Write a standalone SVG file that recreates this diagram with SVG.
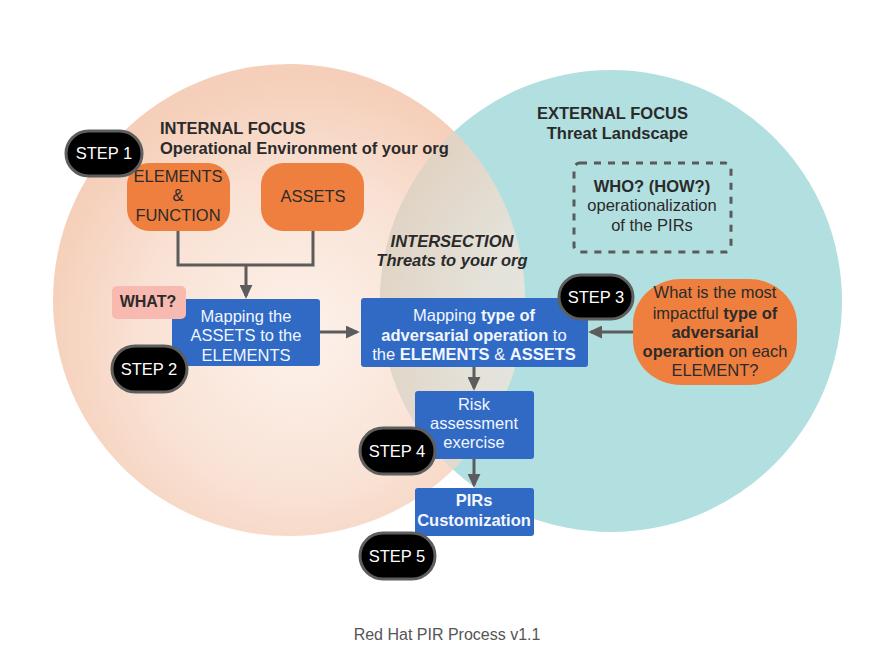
<svg xmlns="http://www.w3.org/2000/svg" width="872" height="661" viewBox="0 0 872 661">
<style>
text{font-family:"Liberation Sans",Arial,sans-serif;font-size:16.5px}
.dark{fill:#2b2b2b}
.hdr{font-weight:bold;fill:#2a2a2a;font-size:16.5px}
.wt{fill:#f2f6ff}
.b{font-weight:bold}
.pill{fill:#000;stroke:#5e5e5e;stroke-width:3}
.pilltxt{fill:#fff;text-anchor:middle;font-size:16.5px}
.blue{fill:#306ac5}
.orange{fill:#ef7f3e}
.conn{fill:none;stroke:#5c5c5c;stroke-width:3}
.mid{text-anchor:middle}
.cap{fill:#555;font-size:16px}
.what{font-size:16px}
</style>
<defs>
<radialGradient id="peach" cx="0.52" cy="0.58" r="0.55">
<stop offset="0" stop-color="#fdf2eb"/>
<stop offset="0.6" stop-color="#f9e2d5"/>
<stop offset="1" stop-color="#f5cfb9"/>
</radialGradient>
<clipPath id="leftClip"><circle cx="289" cy="300" r="236"/></clipPath>
<marker id="arr" viewBox="0 0 10 10" refX="8" refY="5" markerUnits="userSpaceOnUse" markerWidth="14" markerHeight="13" orient="auto" preserveAspectRatio="none">
<path d="M0,0 L10,5 L0,10 z" fill="#5c5c5c"/>
</marker>
</defs>
<rect width="872" height="661" fill="#fff"/>

<g id="venn">
<circle cx="289" cy="300" r="236" fill="url(#peach)"/>
<circle cx="611" cy="301" r="231" fill="#b2dfe0"/>
<circle cx="611" cy="301" r="231" fill="url(#peach)" opacity="0.7" clip-path="url(#leftClip)"/>
</g>

<g id="labels">
<text x="160" y="134" class="hdr">INTERNAL FOCUS</text>
<text x="160" y="154" class="hdr">Operational Environment of your org</text>
<text x="688" y="119" class="hdr" text-anchor="end">EXTERNAL FOCUS</text>
<text x="688" y="139" class="hdr" text-anchor="end">Threat Landscape</text>
<text x="452" y="247" class="hdr mid" font-style="italic">INTERSECTION</text>
<text x="452" y="266" class="hdr mid" font-style="italic">Threats to your org</text>
<text x="447" y="640" class="mid cap">Red Hat PIR Process v1.1</text>
</g>

<g id="connectors">
<path class="conn" d="M178,231 V265 H313 V231"/>
<line class="conn" x1="246" y1="265" x2="246" y2="296" marker-end="url(#arr)"/>
<line class="conn" x1="320" y1="332" x2="357" y2="332" marker-end="url(#arr)"/>
<line class="conn" x1="633" y1="332" x2="591" y2="332" marker-end="url(#arr)"/>
<line class="conn" x1="474" y1="367" x2="474" y2="388" marker-end="url(#arr)"/>
<line class="conn" x1="474" y1="459" x2="474" y2="485" marker-end="url(#arr)"/>
</g>

<g id="elements">
<rect x="127" y="163" width="103" height="68" rx="22" class="orange"/>
<text x="178" y="182" class="dark mid">ELEMENTS</text>
<text x="178" y="201" class="dark mid">&amp;</text>
<text x="178" y="221" class="dark mid">FUNCTION</text>
</g>

<g id="assets">
<rect x="261" y="163" width="103" height="68" rx="22" class="orange"/>
<text x="313" y="202" class="dark mid">ASSETS</text>
</g>

<g id="who">
<rect x="574" y="163" width="157" height="89" rx="6" fill="none" stroke="#5a5a5a" stroke-width="3" stroke-dasharray="7 7"/>
<text x="652" y="192" class="dark mid b">WHO? (HOW?)</text>
<text x="652" y="211" class="dark mid">operationalization</text>
<text x="652" y="231" class="dark mid">of the PIRs</text>
</g>

<g id="mapping-assets">
<rect x="172" y="299" width="148" height="67" rx="3" class="blue"/>
<text x="246" y="322" class="wt mid">Mapping the</text>
<text x="246" y="341" class="wt mid">ASSETS to the</text>
<text x="246" y="361" class="wt mid">ELEMENTS</text>
</g>

<g id="what">
<rect x="112" y="286" width="74" height="33" rx="5" fill="#f8b9b1"/>
<text x="148" y="307" class="dark mid b what">WHAT?</text>
</g>

<g id="mapping-type">
<rect x="361" y="298" width="227" height="69" rx="3" class="blue"/>
<text x="474" y="321" class="wt mid">Mapping <tspan class="b">type of</tspan></text>
<text x="474" y="341" class="wt mid"><tspan class="b">adversarial operation</tspan> to</text>
<text x="474" y="360" class="wt mid">the <tspan class="b">ELEMENTS</tspan> &amp; <tspan class="b">ASSETS</tspan></text>
</g>

<g id="impact-question">
<rect x="633" y="279" width="164" height="106" rx="48" ry="45" class="orange"/>
<text x="715" y="298" class="dark mid">What is the most</text>
<text x="715" y="319" class="dark mid">impactful <tspan class="b">type of</tspan></text>
<text x="715" y="338" class="dark mid b">adversarial</text>
<text x="715" y="357" class="dark mid"><tspan class="b">operartion</tspan> on each</text>
<text x="715" y="376" class="dark mid">ELEMENT?</text>
</g>

<g id="risk">
<rect x="415" y="391" width="119" height="68" rx="3" class="blue"/>
<text x="474" y="410" class="wt mid">Risk</text>
<text x="474" y="429" class="wt mid">assessment</text>
<text x="474" y="448" class="wt mid">exercise</text>
</g>

<g id="pirs">
<rect x="415" y="488" width="119" height="48" rx="3" class="blue"/>
<text x="474" y="506" class="wt mid b">PIRs</text>
<text x="474" y="526" class="wt mid b">Customization</text>
</g>

<g id="step1"><rect x="66" y="131" width="76" height="45" rx="22.5" class="pill"/><text x="104" y="159" class="pilltxt">STEP 1</text></g>
<g id="step2"><rect x="112" y="346" width="75" height="46" rx="23" class="pill"/><text x="149" y="375" class="pilltxt">STEP 2</text></g>
<g id="step3"><rect x="559" y="275" width="74" height="44" rx="22" class="pill"/><text x="596" y="303" class="pilltxt">STEP 3</text></g>
<g id="step4"><rect x="360" y="428" width="75" height="46" rx="23" class="pill"/><text x="397" y="457" class="pilltxt">STEP 4</text></g>
<g id="step5"><rect x="360" y="533" width="75" height="46" rx="23" class="pill"/><text x="397" y="562" class="pilltxt">STEP 5</text></g>
</svg>
